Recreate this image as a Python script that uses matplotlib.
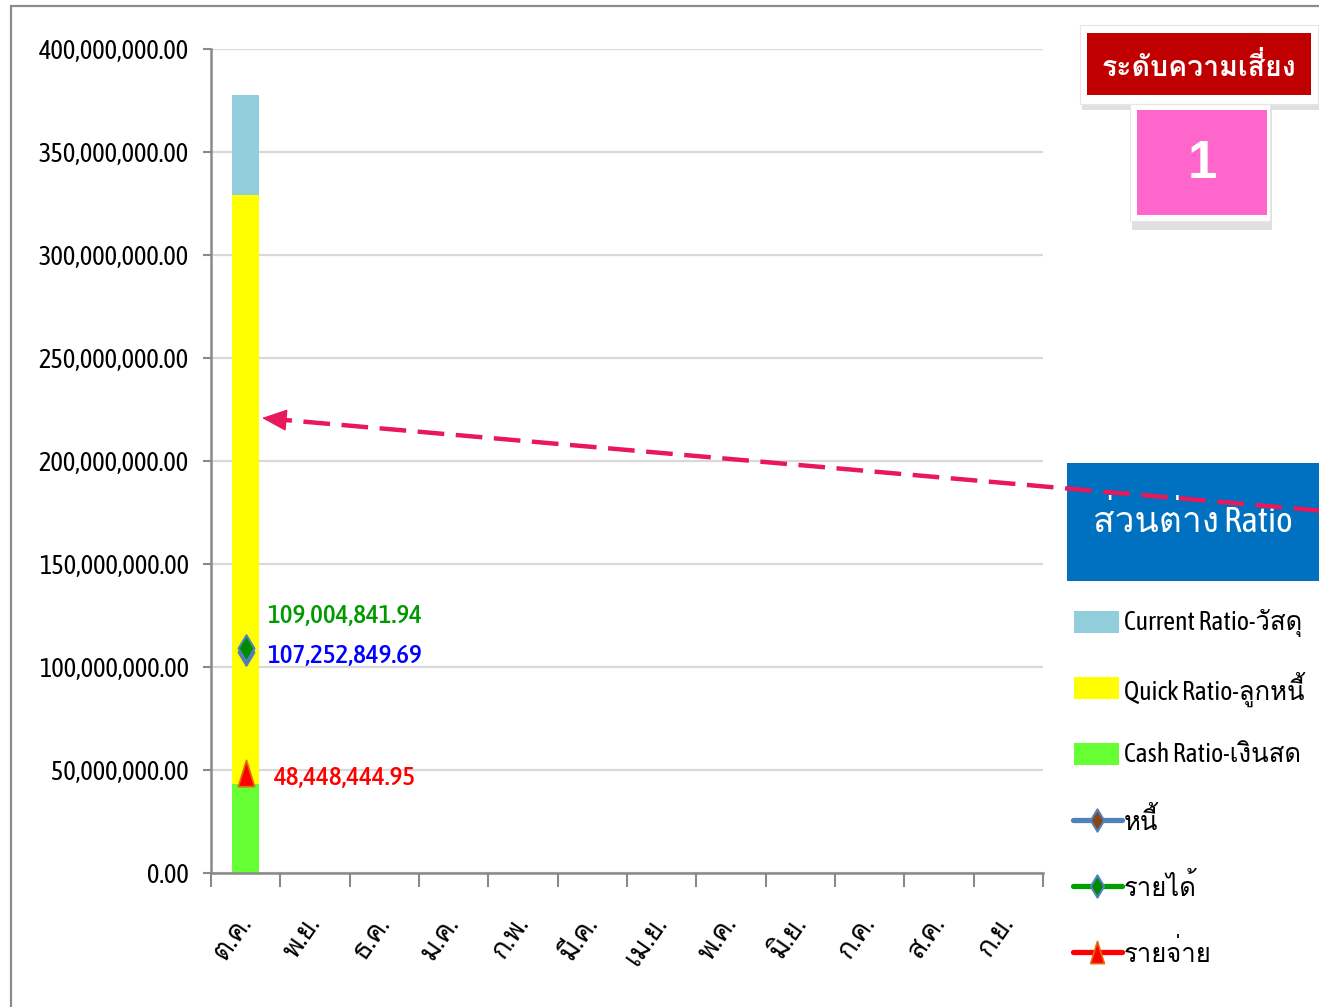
import matplotlib
matplotlib.use("Agg")
import matplotlib.pyplot as plt
import matplotlib.patches as mpatches
from matplotlib.lines import Line2D
from matplotlib.path import Path
from matplotlib.ticker import FuncFormatter, FixedLocator
import numpy as np

LAT = "Asap Condensed"
THAI = "Loma"
FAM = [LAT, THAI, "DejaVu Sans"]
plt.rcParams["font.family"] = FAM

# ---------------- data ----------------
months = ["ต.ค.", "พ.ย.", "ธ.ค.", "ม.ค.", "ก.พ.", "มี.ค.",
          "เม.ย.", "พ.ค.", "มิ.ย.", "ก.ค.", "ส.ค.", "ก.ย."]
cash_ratio = [43000000] + [np.nan] * 11          # Cash Ratio-เงินสด
quick_ratio = [286000000] + [np.nan] * 11        # Quick Ratio-ลูกหนี้
current_ratio = [48500000] + [np.nan] * 11       # Current Ratio-วัสดุ
debt = [107252849.69] + [np.nan] * 11            # หนี้
income = [109004841.94] + [np.nan] * 11          # รายได้
expense = [48448444.95] + [np.nan] * 11          # รายจ่าย
yticks = [0, 50e6, 100e6, 150e6, 200e6, 250e6, 300e6, 350e6, 400e6]
series_names = ["Current Ratio-วัสดุ", "Quick Ratio-ลูกหนี้", "Cash Ratio-เงินสด",
                "หนี้", "รายได้", "รายจ่าย"]
risk_title = "ระดับความเสี่ยง"
risk_level = "1"
diff_title = "ส่วนต่าง Ratio"

W, H = 1319, 1007
fig = plt.figure(figsize=(W / 100, H / 100), dpi=100)
ax = fig.add_axes([211 / W, 1 - 873 / H, (1043 - 211) / W, (873 - 49) / H])

# narrow marker shapes
tri = Path([(-0.62, -1), (0.62, -1), (0, 1), (-0.62, -1)],
           [Path.MOVETO, Path.LINETO, Path.LINETO, Path.CLOSEPOLY])
dia = Path([(0, -1), (0.6, 0), (0, 1), (-0.6, 0), (0, -1)],
           [Path.MOVETO, Path.LINETO, Path.LINETO, Path.LINETO, Path.CLOSEPOLY])

x = np.arange(len(months))
c = np.nan_to_num(cash_ratio)
q = np.nan_to_num(quick_ratio)
bw = 0.39
col_cash, col_quick, col_cur = "#66FF33", "#FFFF00", "#92CDDC"
ax.bar(x, cash_ratio, bw, color=col_cash, zorder=2)
ax.bar(x, quick_ratio, bw, bottom=c, color=col_quick, zorder=2)
ax.bar(x, current_ratio, bw, bottom=c + q, color=col_cur, zorder=2)

st_debt = dict(color="#4F81BD", marker=dia, mfc="#8B4513", mec="#4F81BD", mew=1.5)
st_inc = dict(color="#00A000", marker=dia, mfc="#008A00", mec="#4F81BD", mew=1.5)
st_exp = dict(color="#FF0000", marker=tri, mfc="#FF0000", mec="#E46C0A", mew=1.2)
ax.plot(x, debt, lw=3.5, ms=19, zorder=3, **st_debt)
ax.plot(x, income, lw=3.5, ms=19, zorder=4, **st_inc)
ax.plot(x, expense, lw=3.5, ms=19, zorder=4, **st_exp)

lab_font = dict(fontsize=19.5, family=FAM, fontweight="medium")
ax.annotate(f"{income[0]:,.2f}", (x[0], income[0]), xytext=(22, 33),
            textcoords="offset pixels", ha="left", va="center", color="#009900", **lab_font)
ax.annotate(f"{debt[0]:,.2f}", (x[0], debt[0]), xytext=(22, -3),
            textcoords="offset pixels", ha="left", va="center", color="#0000FF", **lab_font)
ax.annotate(f"{expense[0]:,.2f}", (x[0], expense[0]), xytext=(27, -4),
            textcoords="offset pixels", ha="left", va="center", color="#FF0000", **lab_font)

ax.set_xlim(-0.5, len(months) - 0.5)
ax.set_ylim(0, 400e6)
ax.set_yticks(yticks)
ax.yaxis.set_major_formatter(FuncFormatter(lambda v, p: f"{v:,.2f}"))
ax.set_xticks(x)
ax.set_xticklabels(months)
ax.xaxis.set_minor_locator(FixedLocator(np.arange(-0.5, len(months), 1.0)))
ax.tick_params(axis="x", which="major", length=0, pad=33, labelsize=20)
ax.tick_params(axis="x", which="minor", length=10, width=1.5, color="#898989")
ax.tick_params(axis="y", which="major", length=6, width=1.5, color="#898989",
               pad=10, labelsize=19)
for t in ax.get_xticklabels():
    t.set_rotation(55)
    t.set_ha("right")
    t.set_va("center")
    t.set_rotation_mode("anchor")
ax.grid(axis="y", color="#D9D9D9", lw=1.6, zorder=0)
ax.set_axisbelow(True)
for s in ["top", "right"]:
    ax.spines[s].set_visible(False)
for s in ["left", "bottom"]:
    ax.spines[s].set_color("#898989")
    ax.spines[s].set_linewidth(1.8)

# outer chart-area border
fig.add_artist(mpatches.Rectangle((11 / W, -0.02), 1.1, 1 - 6 / H + 0.02,
                                  transform=fig.transFigure, fill=False,
                                  ec="#8C8C8C", lw=1.6, zorder=0))


def fpt(px, py):
    return (px / W, 1 - py / H)


def fig_rect(x0, y0, x1, y1, **kw):
    r = mpatches.Rectangle((x0 / W, 1 - y1 / H), (x1 - x0) / W, (y1 - y0) / H,
                           transform=fig.transFigure, **kw)
    fig.add_artist(r)
    return r


# legend (manual rows)
row_y = [622, 688, 754, 820, 886, 952]
patch_cols = [col_cur, col_quick, col_cash]
line_styles = [st_debt, st_inc, st_exp]
for i, name in enumerate(series_names):
    yy = row_y[i]
    if i < 3:
        fig_rect(1074, yy - 11, 1119, yy + 11, fc=patch_cols[i], ec="none", zorder=5)
    else:
        st = line_styles[i - 3]
        ln = Line2D([1073 / W, 1122 / W], [1 - yy / H] * 2, transform=fig.transFigure,
                    lw=3.8, solid_capstyle="round", color=st["color"], zorder=5)
        fig.add_artist(ln)
        mk = Line2D([1097 / W], [1 - yy / H], transform=fig.transFigure, ls="none",
                    marker=st["marker"], ms=16, mfc=st["mfc"], mec=st["mec"],
                    mew=st["mew"], zorder=6)
        fig.add_artist(mk)
    fig.text(1124 / W, 1 - (yy + 1) / H, name, fontsize=18.5, family=FAM,
             ha="left", va="center", color="black", zorder=6)

# risk level title box with shadow
fig_rect(1082, 31, 1320, 110, fc="#9A9A9A", ec="none", alpha=0.3, zorder=5)
fig_rect(1080, 25, 1318, 104, fc="white", ec="#E6E6E6", lw=0.8, zorder=6)
fig_rect(1087, 33, 1311, 95, fc="#C00000", ec="none", zorder=7)
fig.text((1087 + 1311) / 2 / W, 1 - 66 / H, risk_title, color="white", fontsize=20.5,
         fontweight="bold", family=[THAI, "DejaVu Sans"], ha="center", va="center", zorder=8)
# risk level value box with shadow
fig_rect(1132, 110, 1272, 230, fc="#9A9A9A", ec="none", alpha=0.3, zorder=5)
fig_rect(1130, 104, 1270, 221, fc="white", ec="#E6E6E6", lw=0.8, zorder=6)
fig_rect(1137, 110, 1267, 215, fc="#FF66CC", ec="none", zorder=7)
fig.text((1137 + 1267) / 2 / W, 1 - 164 / H, risk_level, color="white", fontsize=38,
         fontweight="bold", family=["Liberation Sans", "DejaVu Sans"],
         ha="center", va="center", zorder=8)

# ratio difference box
fig_rect(1067, 463, 1325, 581, fc="#0070C0", ec="none", zorder=5)
fig.text(1193 / W, 1 - 521 / H, diff_title, color="white", fontsize=25.5,
         family=FAM, ha="center", va="center", zorder=6)

# dashed arrow: dashed shaft + solid head
p_start = np.array([1330.0, 511.5])
p_tip = np.array([262.0, 418.0])
d = (p_tip - p_start) / np.linalg.norm(p_tip - p_start)
p_neck = p_tip - d * 16
fig.add_artist(Line2D([p_start[0] / W, p_neck[0] / W], [1 - p_start[1] / H, 1 - p_neck[1] / H],
                      transform=fig.transFigure, color="#E8185A", lw=3.2,
                      ls=(0, (6, 2.6)), zorder=10))
fig.add_artist(mpatches.FancyArrowPatch(
    fpt(*(p_tip - d * 18)), fpt(*p_tip), transform=fig.transFigure,
    arrowstyle="-|>,head_length=16,head_width=7", mutation_scale=1,
    color="#E8185A", lw=1, shrinkA=0, shrinkB=0, zorder=10))

fig.savefig("out.png", dpi=100)
